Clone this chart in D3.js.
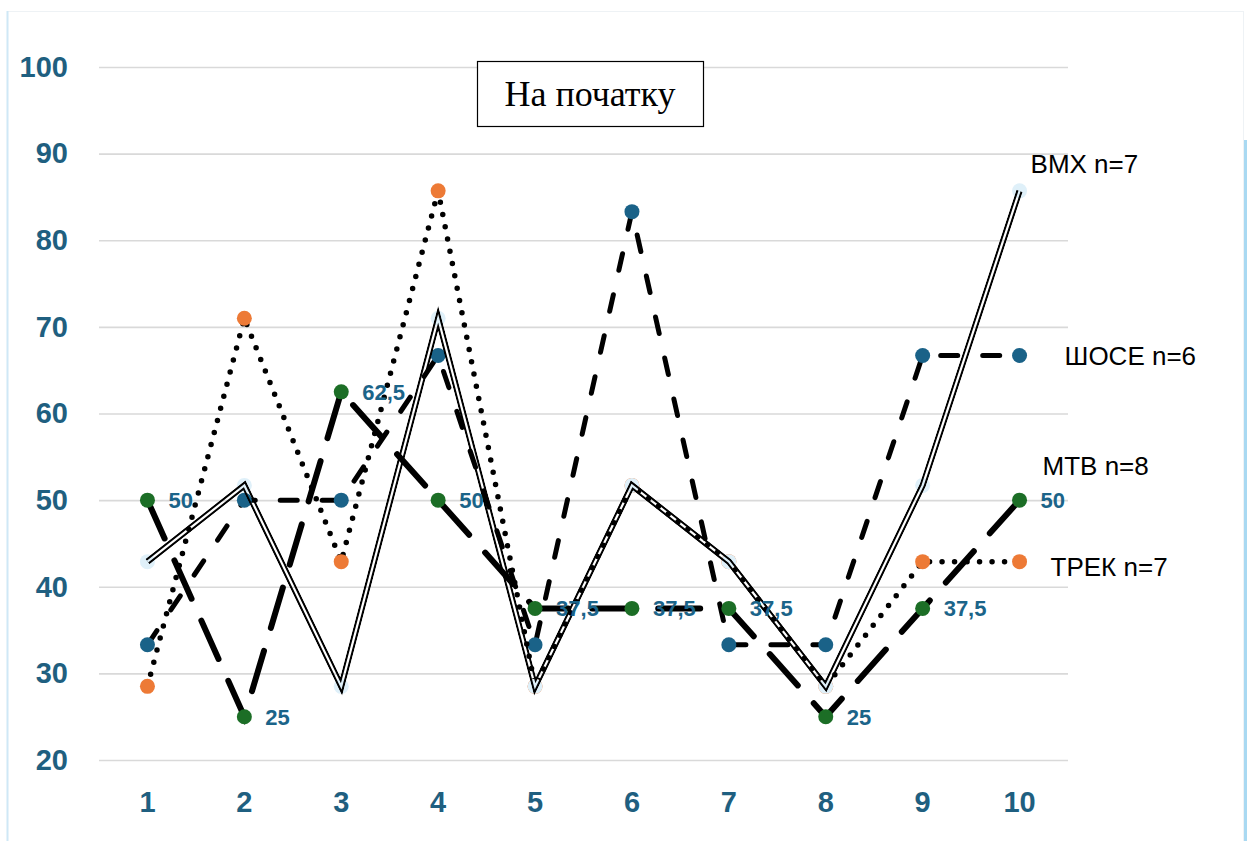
<!DOCTYPE html>
<html>
<head>
<meta charset="utf-8">
<script src="https://cdn.jsdelivr.net/npm/d3@7"></script>
<style>
  body { margin: 0; background: #fff; }
  svg { display: block; }
</style>
</head>
<body>
<script>
// data
var categories = ["1", "2", "3", "4", "5", "6", "7", "8", "9", "10"];
var shoseValues = [33.3, 50, 50, 66.7, 33.3, 83.3, 33.3, 33.3, 66.7, 66.7];
var mtbValues = [50, 25, 62.5, 50, 37.5, 37.5, 37.5, 25, 37.5, 50];
var trekValues = [28.5, 71, 42.9, 85.7, 28.5, 51.7, 42.9, 28.5, 42.9, 42.9];
var bmxValues = [42.9, 51.7, 28.5, 71, 28.5, 51.7, 42.9, 28.5, 51.7, 85.7];
var mtbLabels = ["50", "25", "62,5", "50", "37,5", "37,5", "37,5", "25", "37,5", "50"];
var yTicks = [20, 30, 40, 50, 60, 70, 80, 90, 100];
var seriesNames = ["ШОСЕ n=6", "MTB n=8", "ТРЕК n=7", "BMX n=7"];
var titleText = "На початку";

var W = 1247, H = 841;
var plot = {left: 99, right: 1068, top: 67, bottom: 760};

var svg = d3.select("body").append("svg")
    .attr("width", W)
    .attr("height", H);

// frame
svg.append("rect")
    .attr("x", 7.5).attr("y", 11.5)
    .attr("width", 1236).attr("height", 840)
    .attr("fill", "none")
    .attr("stroke", "#eef2f5");
svg.append("line")
    .attr("x1", 7.5).attr("x2", 7.5).attr("y1", 11).attr("y2", H)
    .attr("stroke", "#cfe8f6").attr("stroke-width", 2);
svg.append("line")
    .attr("x1", 1245.5).attr("x2", 1245.5).attr("y1", 140).attr("y2", H)
    .attr("stroke", "#a9d9f2").attr("stroke-width", 3);

var x = d3.scaleBand().domain(categories).range([plot.left, plot.right]).padding(0);
var y = d3.scaleLinear().domain([20, 100]).range([plot.bottom, plot.top]);
function cx(d, i) { return x(categories[i]) + x.bandwidth() / 2; }

// grid
svg.append("g")
    .attr("transform", "translate(" + plot.left + ",0)")
    .call(d3.axisLeft(y).tickValues(yTicks).tickSize(-(plot.right - plot.left)).tickFormat(""))
    .call(function (g) { g.select(".domain").remove(); })
    .selectAll("line")
    .attr("stroke", "#d9d9d9")
    .attr("stroke-width", 1.6);

// y labels
var yAxis = svg.append("g")
    .attr("transform", "translate(" + plot.left + ",0)")
    .call(d3.axisLeft(y).tickValues(yTicks).tickSize(0).tickPadding(31));
yAxis.select(".domain").remove();
yAxis.selectAll("text")
    .attr("fill", "#1f5f80")
    .style("font", "bold 29px 'Liberation Sans', Arial, sans-serif");

// x labels
var xAxis = svg.append("g")
    .attr("transform", "translate(0," + plot.bottom + ")")
    .call(d3.axisBottom(x).tickSize(0).tickPadding(31));
xAxis.select(".domain").remove();
xAxis.selectAll("text")
    .attr("fill", "#1f5f80")
    .style("font", "bold 29px 'Liberation Sans', Arial, sans-serif");

var line = d3.line().x(cx).y(function (d) { return y(d); });

function markers(values, color, opacity) {
    svg.append("g").selectAll("circle")
        .data(values)
        .enter().append("circle")
        .attr("cx", cx)
        .attr("cy", function (d) { return y(d); })
        .attr("r", 7.5)
        .attr("fill", color)
        .attr("fill-opacity", opacity || 1);
}

// ШОСЕ
svg.append("path")
    .datum(shoseValues)
    .attr("d", line)
    .attr("fill", "none")
    .attr("stroke", "#000")
    .attr("stroke-width", 5)
    .attr("stroke-linecap", "round")
    .attr("stroke-dasharray", "17,25");
markers(shoseValues, "#1a6288");

// MTB
svg.append("path")
    .datum(mtbValues)
    .attr("d", line)
    .attr("fill", "none")
    .attr("stroke", "#000")
    .attr("stroke-width", 6)
    .attr("stroke-linecap", "round")
    .attr("stroke-dasharray", "42,24");
markers(mtbValues, "#1c6e26");

// ТРЕК
svg.append("path")
    .datum(trekValues)
    .attr("d", line)
    .attr("fill", "none")
    .attr("stroke", "#000")
    .attr("stroke-width", 5.5)
    .attr("stroke-linecap", "round")
    .attr("stroke-dasharray", "0,12.5");
markers(trekValues, "#ed7a36");

// BMX: double line with a see-through gap
markers(bmxValues, "#dff0f9");
var defs = svg.append("defs");
var mask = defs.append("mask")
    .attr("id", "bmxGap")
    .attr("maskUnits", "userSpaceOnUse")
    .attr("x", 0).attr("y", 0).attr("width", W).attr("height", H);
mask.append("path")
    .datum(bmxValues)
    .attr("d", line)
    .attr("fill", "none")
    .attr("stroke", "#fff")
    .attr("stroke-width", 6.5);
mask.append("path")
    .datum(bmxValues)
    .attr("d", line)
    .attr("fill", "none")
    .attr("stroke", "#000")
    .attr("stroke-width", 2.2);
svg.append("path")
    .datum(bmxValues)
    .attr("d", line)
    .attr("fill", "none")
    .attr("stroke", "#000")
    .attr("stroke-width", 6.5)
    .attr("stroke-linejoin", "miter")
    .attr("stroke-miterlimit", 10)
    .attr("mask", "url(#bmxGap)");

// MTB data labels
svg.append("g").selectAll("text")
    .data(mtbValues)
    .enter().append("text")
    .attr("x", function (d, i) { return cx(d, i) + 21; })
    .attr("y", function (d) { return y(d) + 8; })
    .attr("fill", "#1b6489")
    .style("font", "bold 22px 'Liberation Sans', Arial, sans-serif")
    .text(function (d, i) { return mtbLabels[i]; });

// series names next to the last points
var lastVals = [shoseValues[9], mtbValues[9], trekValues[9], bmxValues[9]];
var nameOffsets = [[45, 10], [23, -25], [31, 14], [11, -18]];
var last = categories.length - 1;
svg.append("g").selectAll("text")
    .data(seriesNames)
    .enter().append("text")
    .attr("x", function (d, i) { return cx(null, last) + nameOffsets[i][0]; })
    .attr("y", function (d, i) { return y(lastVals[i]) + nameOffsets[i][1]; })
    .attr("fill", "#000")
    .style("font", "26px 'Liberation Sans', Arial, sans-serif")
    .text(function (d) { return d; });

// title box
svg.append("rect")
    .attr("x", 477.5).attr("y", 61.5)
    .attr("width", 226).attr("height", 65)
    .attr("fill", "#fff")
    .attr("stroke", "#000")
    .attr("stroke-width", 1.2);
svg.append("text")
    .attr("x", 590).attr("y", 106)
    .attr("text-anchor", "middle")
    .style("font", "36px 'Liberation Serif', 'Times New Roman', serif")
    .text(titleText);
</script>
</body>
</html>
